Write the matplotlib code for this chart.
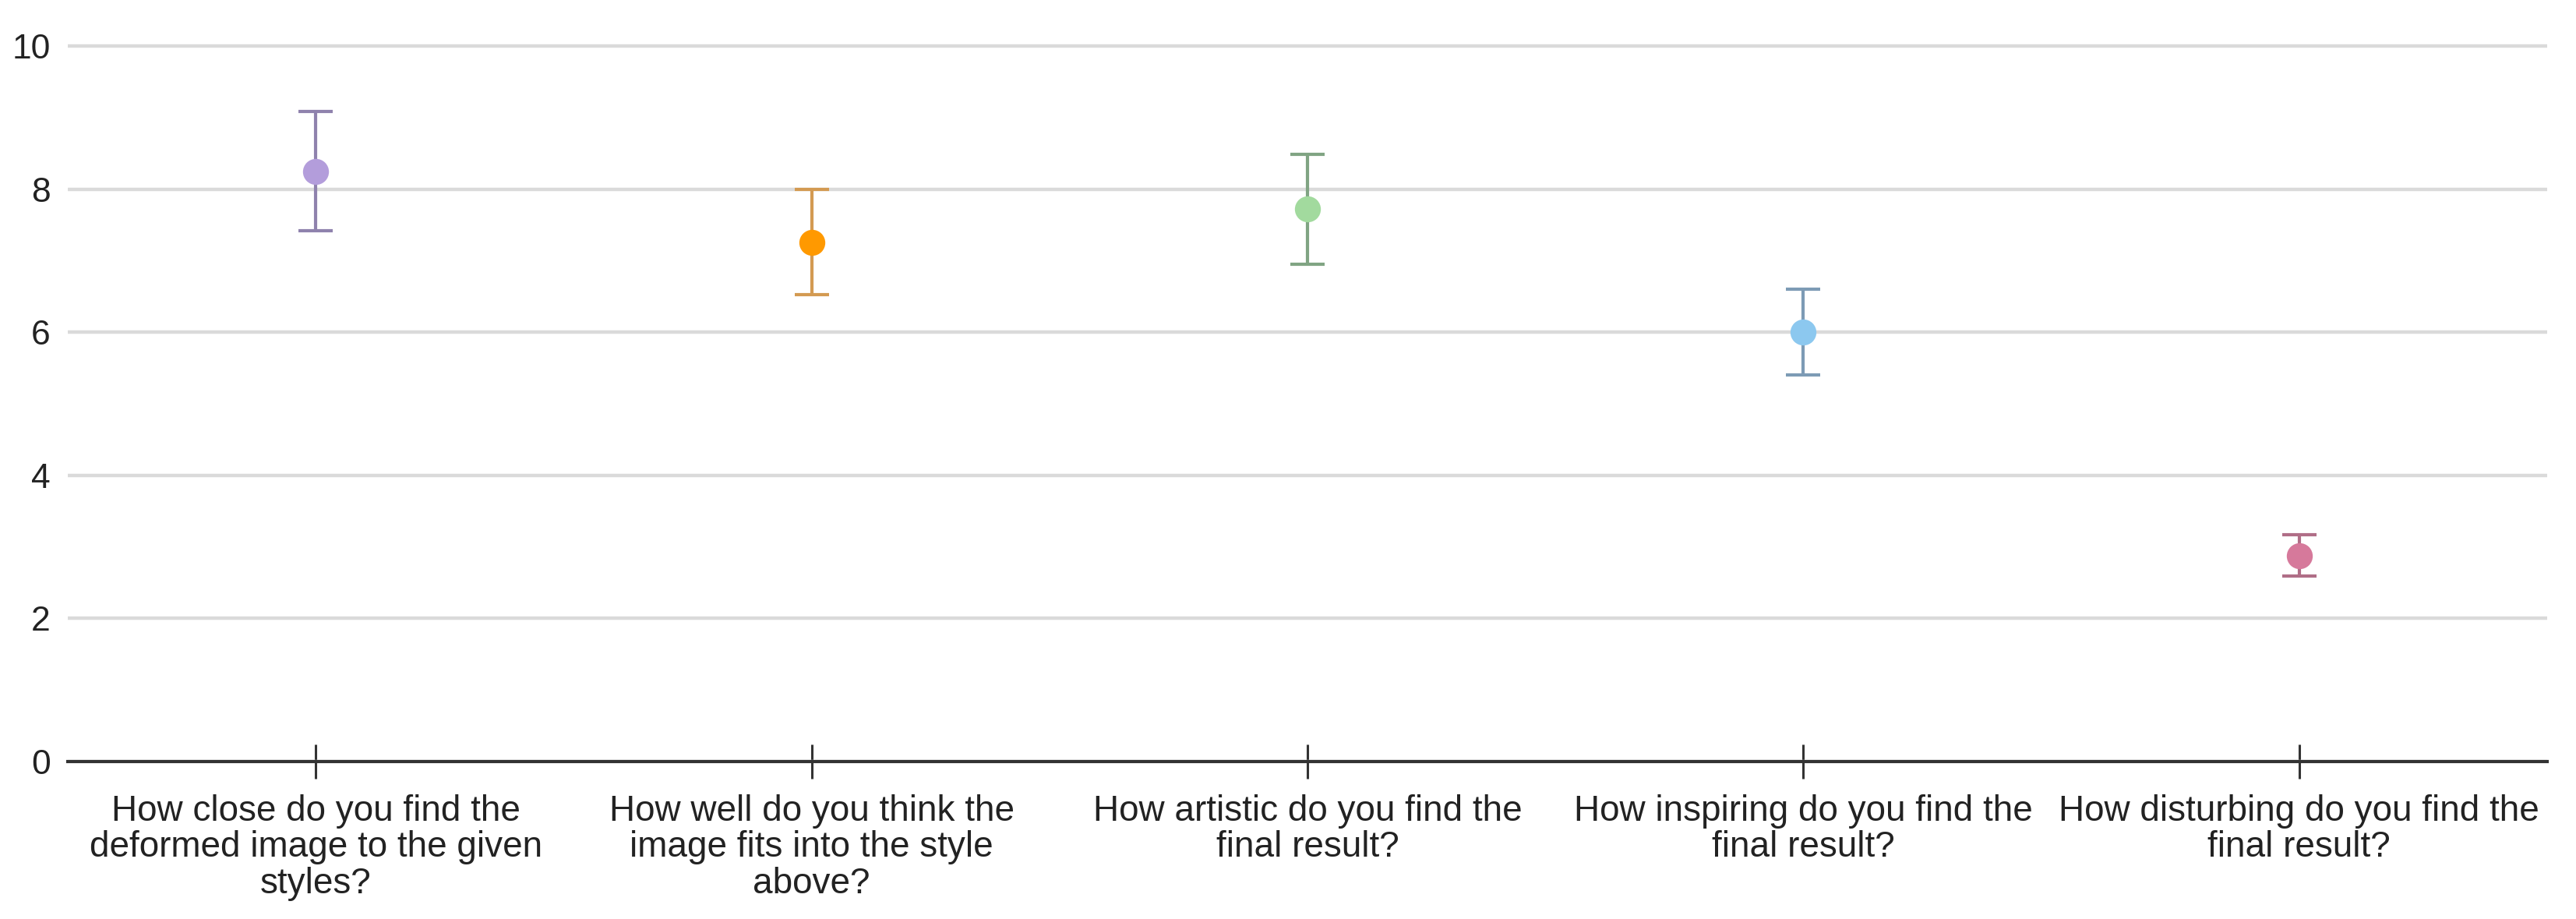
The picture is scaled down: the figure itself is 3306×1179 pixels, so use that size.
import matplotlib
matplotlib.use("Agg")
import matplotlib.pyplot as plt

plt.rcParams.update({
    "font.family": ["Liberation Sans", "DejaVu Sans"],
    "figure.dpi": 100,
})

# ----------------------------------------------------
# DATA
# ----------------------------------------------------
questions = [
    "How close do you find the\ndeformed image to the given\nstyles?",
    "How well do you think the\nimage fits into the style\nabove?",
    "How artistic do you find the\nfinal result?",
    "How inspiring do you find the\nfinal result?",
    "How disturbing do you find the\nfinal result?",
]
means = [8.25, 7.26, 7.72, 6.0, 2.88]
errors = [0.83, 0.73, 0.77, 0.6, 0.29]
marker_colors = ["#b39ddb", "#ff9900", "#a2da9e", "#8cc8ef", "#d6799b"]
bar_colors = ["#8f82ad", "#d39a52", "#80a483", "#7d9bb5", "#b06e87"]
y_ticks = [0, 2, 4, 6, 8, 10]

# ----------------------------------------------------
# PLOT
# ----------------------------------------------------
fig = plt.figure(figsize=(33.06, 11.79))
ax = fig.add_axes([0.0263, 0.1713, 0.9625, 0.7826])

for i in range(len(means)):
    # error bar with caps, then the dot on top
    ax.errorbar(i, means[i], yerr=errors[i], fmt="none",
                ecolor=bar_colors[i], elinewidth=3, capsize=16, capthick=3,
                zorder=3)
    ax.plot(i, means[i], "o", color=marker_colors[i], markersize=24,
            markeredgewidth=0, zorder=4)

ax.set_xlim(-0.5, 4.5)
ax.set_ylim(0, 10.05)
ax.set_yticks(y_ticks)
ax.set_xticks(range(len(questions)))
ax.set_xticklabels(questions, fontsize=33, color="#222222", linespacing=1.08)

for s in ["top", "right", "left"]:
    ax.spines[s].set_visible(False)
ax.spines["bottom"].set_color("#333333")
ax.spines["bottom"].set_linewidth(3)

ax.yaxis.grid(True, color="#dadada", linewidth=3.2)
ax.set_axisbelow(True)
ax.tick_params(axis="y", length=0, pad=16, labelsize=32, labelcolor="#222222")
ax.tick_params(axis="x", direction="inout", length=32, width=2.2,
               color="#333333", pad=14)

plt.savefig("out.png")
